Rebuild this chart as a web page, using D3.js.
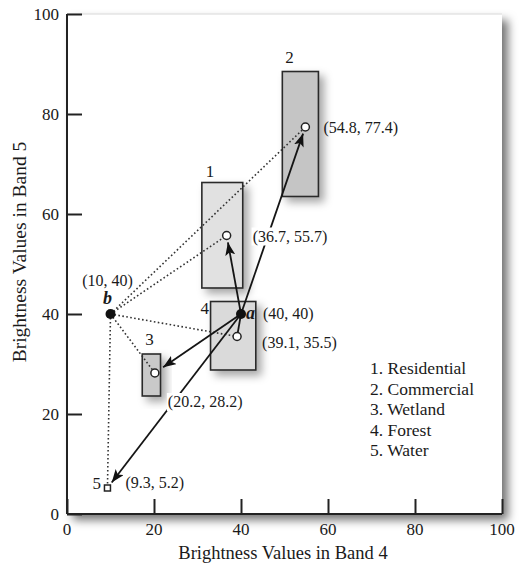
<!DOCTYPE html>
<html>
<head>
<meta charset="utf-8">
<script src="https://cdn.jsdelivr.net/npm/d3@7"></script>
<style>
    body { margin: 0; background: #fff; }
    svg  { display: block; font-family: 'Liberation Serif', 'Times New Roman', serif; fill: #1a1a1a; }
</style>
</head>
<body>
<svg id="chart" width="521" height="575"></svg>
<script>
// class statistics, brightness values in band 4 (x) and band 5 (y)
var classNames = ['Residential', 'Commercial', 'Wetland', 'Forest', 'Water'];
var meanBand4  = [36.7, 54.8, 20.2, 39.1, 9.3];
var meanBand5  = [55.7, 77.4, 28.2, 35.5, 5.2];
var minBand4   = [31.0, 49.5, 17.3, 33.0, null];
var maxBand4   = [40.4, 57.8, 21.5, 43.4, null];
var minBand5   = [45.2, 63.5, 23.6, 28.8, null];
var maxBand5   = [66.3, 88.5, 32.0, 42.5, null];
var pixelA     = [40, 40];
var pixelB     = [10, 40];
var tickValues = [0, 20, 40, 60, 80, 100];

// look of each class box and label placement (px offsets from the mean)
var boxFill    = ['#e1e1e1', '#c5c5c5', '#c9c9c9', '#dadada'];
var labelShift = [[26, 6], [18, 6], [13, 34], [25, 11], [18, 0]];
var numShift   = [[4, -6], [3, -9], [3, -9], [-10, 12]];

var svg = d3.select('#chart');

var x = d3.scaleLinear().domain([0, 100]).range([67, 502]);
var y = d3.scaleLinear().domain([0, 100]).range([514, 14]);

var classes = classNames.map(function (name, i) {
    return {
        id: i + 1,
        name: name,
        mean: [meanBand4[i], meanBand5[i]],
        box: minBand4[i] === null ? null : { x0: minBand4[i], x1: maxBand4[i], y0: minBand5[i], y1: maxBand5[i] },
        fill: boxFill[i],
        label: labelShift[i],
        num: numShift[i]
    };
});

var defs = svg.append('defs');

defs.append('filter').attr('id', 'frame-shadow')
    .attr('x', '-5%').attr('y', '-5%').attr('width', '115%').attr('height', '115%')
    .append('feDropShadow')
    .attr('dx', 6).attr('dy', 6).attr('stdDeviation', 5)
    .attr('flood-color', '#000').attr('flood-opacity', 0.55)
;

defs.append('filter').attr('id', 'box-shadow')
    .attr('x', '-40%').attr('y', '-20%').attr('width', '200%').attr('height', '150%')
    .append('feDropShadow')
    .attr('dx', 5).attr('dy', 5).attr('stdDeviation', 4)
    .attr('flood-color', '#000').attr('flood-opacity', 0.35)
;

defs.append('marker')
    .attr('id', 'head')
    .attr('markerUnits', 'userSpaceOnUse')
    .attr('markerWidth', 14).attr('markerHeight', 10)
    .attr('refX', 13).attr('refY', 5)
    .attr('orient', 'auto')
    .append('path')
    .attr('d', 'M0,0 L13,5 L0,10 L3,5 Z')
    .style('fill', '#111')
;

// plot frame
svg.append('rect')
    .attr('x', x(0)).attr('y', y(100))
    .attr('width', x(100) - x(0)).attr('height', y(0) - y(100))
    .style('fill', '#fff')
    .style('filter', 'url(#frame-shadow)')
;

svg.append('line')
    .attr('x1', x(0)).attr('x2', x(100))
    .attr('y1', y(100)).attr('y2', y(100))
    .style('stroke', '#e4e4e4')
    .style('stroke-width', 1.5)
;

// axes, ticks point inward
var xAxis = svg.append('g')
    .attr('transform', `translate(0, ${ y(0) })`)
    .call(d3.axisTop(x).tickValues(tickValues).tickSize(15).tickFormat(''))
;
var yAxis = svg.append('g')
    .attr('transform', `translate(${ x(0) }, 0)`)
    .call(d3.axisRight(y).tickValues(tickValues).tickSize(15).tickFormat(''))
;

[xAxis, yAxis].forEach(function (axis) {
    axis.selectAll('path, line').style('stroke', '#222').style('stroke-width', 2);
    axis.select('.domain').attr('d', function () { return d3.select(this).attr('d').replace(/M[^V H]+V[^H]+H/, ''); });
});
xAxis.select('.domain').attr('d', `M${ x(0) },0H${ x(100) }`);
yAxis.select('.domain').attr('d', `M0,${ y(100) }V${ y(0) }`);

svg.append('g').selectAll('text')
    .data(tickValues)
    .enter().append('text')
    .attr('x', d => x(d))
    .attr('y', y(0) + 21)
    .attr('text-anchor', 'middle')
    .style('font-size', '17px')
    .text(d => d)
;

svg.append('g').selectAll('text')
    .data(tickValues)
    .enter().append('text')
    .attr('x', x(0) - 8)
    .attr('y', d => y(d) + 6)
    .attr('text-anchor', 'end')
    .style('font-size', '17px')
    .text(d => d)
;

svg.append('text')
    .attr('x', 283).attr('y', 559)
    .attr('text-anchor', 'middle')
    .style('font-size', '18.5px')
    .text('Brightness Values in Band 4')
;

svg.append('text')
    .attr('transform', 'translate(26, 252) rotate(-90)')
    .attr('text-anchor', 'middle')
    .style('font-size', '19.5px')
    .text('Brightness Values in Band 5')
;

// class boxes
svg.append('g').selectAll('rect')
    .data(classes.filter(c => c.box))
    .enter().append('rect')
    .attr('x', c => x(c.box.x0))
    .attr('y', c => y(c.box.y1))
    .attr('width', c => x(c.box.x1) - x(c.box.x0))
    .attr('height', c => y(c.box.y0) - y(c.box.y1))
    .style('fill', c => c.fill)
    .style('stroke', '#2a2a2a')
    .style('stroke-width', 1.6)
    .style('filter', 'url(#box-shadow)')
;

svg.append('g').selectAll('text')
    .data(classes.filter(c => c.box))
    .enter().append('text')
    .attr('x', c => x(c.box.x0) + c.num[0])
    .attr('y', c => y(c.box.y1) + c.num[1])
    .style('font-size', '17px')
    .text(c => c.id)
;

// distances from unknown pixel b (dotted)
svg.append('g').selectAll('line')
    .data(classes)
    .enter().append('line')
    .attr('x1', x(pixelB[0])).attr('y1', y(pixelB[1]))
    .attr('x2', c => x(c.mean[0])).attr('y2', c => y(c.mean[1]))
    .style('stroke', '#333')
    .style('stroke-width', 1.6)
    .style('stroke-dasharray', '1.6,2.4')
;

// distances from unknown pixel a (arrows)
function shorten(p0, p1, s) {
    var dx = p1[0] - p0[0], dy = p1[1] - p0[1];
    var len = Math.sqrt(dx * dx + dy * dy);
    return [p1[0] - dx / len * s, p1[1] - dy / len * s];
}

var aPx = [x(pixelA[0]), y(pixelA[1])];

svg.append('g').selectAll('line')
    .data(classes)
    .enter().append('line')
    .each(function (c) {
        var mPx = [x(c.mean[0]), y(c.mean[1])];
        var short = c.id === 4;
        var end = shorten(aPx, mPx, short ? 4 : (c.id === 3 ? 10 : 7));
        d3.select(this)
            .attr('x1', aPx[0]).attr('y1', aPx[1])
            .attr('x2', end[0]).attr('y2', end[1])
            .attr('marker-end', short ? null : 'url(#head)')
        ;
    })
    .style('stroke', '#151515')
    .style('stroke-width', 1.8)
;

// class means
svg.append('g').selectAll('circle')
    .data(classes.filter(c => c.id !== 5))
    .enter().append('circle')
    .attr('cx', c => x(c.mean[0]))
    .attr('cy', c => y(c.mean[1]))
    .attr('r', 4)
    .style('fill', '#fff')
    .style('stroke', '#222')
    .style('stroke-width', 1.5)
;

svg.append('g').selectAll('rect')
    .data(classes.filter(c => c.id === 5))
    .enter().append('rect')
    .attr('x', c => x(c.mean[0]) - 3)
    .attr('y', c => y(c.mean[1]) - 3)
    .attr('width', 6).attr('height', 6)
    .style('fill', '#fff')
    .style('stroke', '#222')
    .style('stroke-width', 1.5)
;

svg.append('text')
    .attr('x', x(classes[4].mean[0]) - 15)
    .attr('y', y(classes[4].mean[1]) + 1)
    .style('font-size', '17px')
    .text(5)
;

// mean labels, some sit on a white patch over the arrows
var meanLabels = svg.append('g').selectAll('g')
    .data(classes)
    .enter().append('g')
    .attr('transform', c => `translate(${ x(c.mean[0]) + c.label[0] }, ${ y(c.mean[1]) + c.label[1] })`)
;

meanLabels.append('text')
    .style('font-size', '16px')
    .text(c => `(${ c.mean[0] }, ${ c.mean[1] })`)
    .each(function (c) {
        if (c.id !== 1 && c.id !== 3) return;
        var bb = this.getBBox();
        d3.select(this.parentNode).insert('rect', 'text')
            .attr('x', bb.x - 1).attr('y', bb.y)
            .attr('width', bb.width + 2).attr('height', bb.height)
            .style('fill', '#fff')
        ;
    })
;

// unknown pixels a and b
var unknowns = [
    { name: 'a', v: pixelA },
    { name: 'b', v: pixelB }
];

svg.append('g').selectAll('circle')
    .data(unknowns)
    .enter().append('circle')
    .attr('cx', u => x(u.v[0]))
    .attr('cy', u => y(u.v[1]))
    .attr('r', 5)
    .style('fill', '#111')
;

svg.append('text')
    .attr('x', x(pixelA[0]) + 5).attr('y', y(pixelA[1]) + 5)
    .style('font-size', '18px').style('font-style', 'italic').style('font-weight', 'bold')
    .text('a')
;
svg.append('text')
    .attr('x', x(pixelA[0]) + 22).attr('y', y(pixelA[1]) + 5)
    .style('font-size', '16px')
    .text(`(${ pixelA[0] }, ${ pixelA[1] })`)
;

svg.append('text')
    .attr('x', x(pixelB[0]) - 3).attr('y', y(pixelB[1]) - 10)
    .attr('text-anchor', 'middle')
    .style('font-size', '18px').style('font-style', 'italic').style('font-weight', 'bold')
    .text('b')
;
svg.append('text')
    .attr('x', x(pixelB[0]) - 3).attr('y', y(pixelB[1]) - 28)
    .attr('text-anchor', 'middle')
    .style('font-size', '16px')
    .text(`(${ pixelB[0] }, ${ pixelB[1] })`)
;

// legend
svg.append('g').selectAll('text')
    .data(classes)
    .enter().append('text')
    .attr('x', 370)
    .attr('y', (c, i) => 374 + i * 20.5)
    .style('font-size', '17.5px')
    .text(c => `${ c.id }. ${ c.name }`)
;
</script>
</body>
</html>
